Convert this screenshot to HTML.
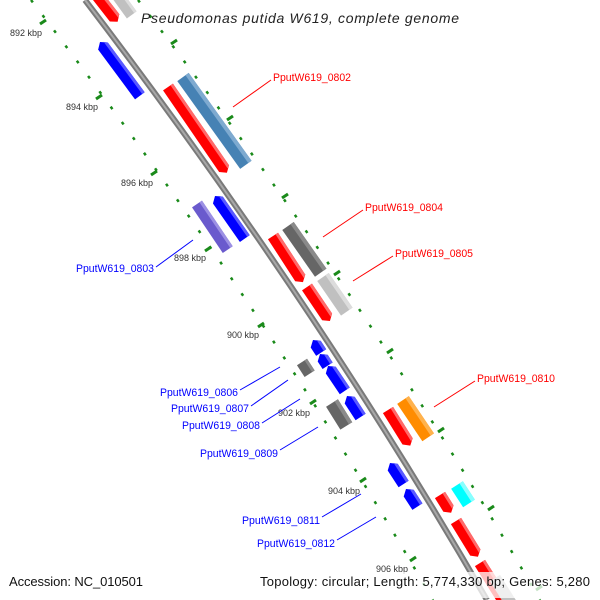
<!DOCTYPE html>
<html><head><meta charset="utf-8"><style>
html,body{margin:0;padding:0;background:#fff;}
svg{display:block;font-family:"Liberation Sans","DejaVu Sans",sans-serif;}
</style></head><body>
<svg width="600" height="600" viewBox="0 0 600 600" xmlns="http://www.w3.org/2000/svg">
<!-- tick rings -->
<g fill="none" stroke="#1a8a1a">
<path d="M31,0 Q260,300 433,600" stroke-width="2.5" stroke-dasharray="3 16"/>
<path d="M138,0 Q367,300 540,600" stroke-width="2.5" stroke-dasharray="3 16"/>
</g>
<g stroke="#1a8a1a" stroke-width="3" stroke-linecap="butt">
<line x1="40" y1="24" x2="46" y2="20"/><line x1="96" y1="99" x2="102" y2="95"/>
<line x1="151" y1="175" x2="157" y2="171"/><line x1="205" y1="251" x2="211" y2="247"/>
<line x1="258" y1="327" x2="264" y2="323"/><line x1="310" y1="404" x2="316" y2="400"/>
<line x1="360" y1="482" x2="366" y2="478"/><line x1="410" y1="561" x2="416" y2="557"/>
<line x1="171" y1="44" x2="177" y2="40"/><line x1="227" y1="120" x2="233" y2="116"/>
<line x1="282" y1="198" x2="288" y2="194"/><line x1="334" y1="275" x2="340" y2="271"/>
<line x1="387" y1="353" x2="393" y2="349"/><line x1="438" y1="432" x2="444" y2="428"/>
<line x1="488" y1="510" x2="494" y2="506"/><line x1="536" y1="590" x2="542" y2="586"/>
</g>
<!-- backbone -->
<path d="M85,0 Q314,300 487,600" fill="none" stroke="#7a7a7a" stroke-width="6"/>
<path d="M85,0 Q314,300 487,600" fill="none" stroke="#a8a8a8" stroke-width="2"/>

<!-- forward genes -->
<g>
<g transform="translate(85,-20) rotate(52)"><polygon points="0,-6 48,-6 53,0 48,6 0,6" fill="#f00"/><polygon points="0,-6 48,-6 50,-3 0,-3" fill="#ff6a6a"/></g>
<g transform="translate(110,-15) rotate(54)"><polygon points="0,-6 37,-6 37,6 0,6" fill="#c0c0c0"/><polygon points="0,-6 37,-6 37,-3 0,-3" fill="#dcdcdc"/></g>
<g transform="translate(168,87) rotate(55.5)"><polygon points="0,-6 99,-6 104,0 99,6 0,6" fill="#f00"/><polygon points="0,-6 99,-6 101,-3 0,-3" fill="#ff6a6a"/></g>
<g transform="translate(183,77) rotate(54.4)"><polygon points="0,-7 108,-7 108,7 0,7" fill="#4682b4"/><polygon points="0,-7 108,-7 108,-3 0,-3" fill="#7eaad0"/></g>
<g transform="translate(273,236) rotate(57)"><polygon points="0,-6 50,-6 55,0 50,6 0,6" fill="#f00"/><polygon points="0,-6 50,-6 52,-3 0,-3" fill="#ff6a6a"/></g>
<g transform="translate(288,226) rotate(55)"><polygon points="0,-7 57,-7 57,7 0,7" fill="#666"/><polygon points="0,-7 57,-7 57,-3 0,-3" fill="#8a8a8a"/></g>
<g transform="translate(307,287) rotate(56)"><polygon points="0,-6 36,-6 41,0 36,6 0,6" fill="#f00"/><polygon points="0,-6 36,-6 38,-3 0,-3" fill="#ff6a6a"/></g>
<g transform="translate(323,277) rotate(55.5)"><polygon points="0,-7 42,-7 42,7 0,7" fill="#c0c0c0"/><polygon points="0,-7 42,-7 42,-3 0,-3" fill="#dcdcdc"/></g>
<g transform="translate(302,362) rotate(57)"><polygon points="0,-6 14,-6 14,6 0,6" fill="#666"/><polygon points="0,-6 14,-6 14,-3 0,-3" fill="#8a8a8a"/></g>
<g transform="translate(332,403) rotate(58)"><polygon points="0,-7 27,-7 27,7 0,7" fill="#666"/><polygon points="0,-7 27,-7 27,-3 0,-3" fill="#8a8a8a"/></g>
<g transform="translate(388,410) rotate(58)"><polygon points="0,-6 37,-6 42,0 37,6 0,6" fill="#f00"/><polygon points="0,-6 37,-6 39,-3 0,-3" fill="#ff6a6a"/></g>
<g transform="translate(403,400) rotate(56)"><polygon points="0,-7 45,-7 45,7 0,7" fill="#ff8c00"/><polygon points="0,-7 45,-7 45,-3 0,-3" fill="#ffb24d"/></g>
<g transform="translate(440,495) rotate(58)"><polygon points="0,-6 16,-6 21,0 16,6 0,6" fill="#f00"/><polygon points="0,-6 16,-6 18,-3 0,-3" fill="#ff6a6a"/></g>
<g transform="translate(457,485) rotate(57)"><polygon points="0,-7 22,-7 22,7 0,7" fill="#0ff"/><polygon points="0,-7 22,-7 22,-3 0,-3" fill="#8ff"/></g>
<g transform="translate(456,521) rotate(58.5)"><polygon points="0,-6 37,-6 42,0 37,6 0,6" fill="#f00"/><polygon points="0,-6 37,-6 39,-3 0,-3" fill="#ff6a6a"/></g>
<g transform="translate(480,563) rotate(58)"><polygon points="0,-6 40,-6 45,0 40,6 0,6" fill="#f00"/><polygon points="0,-6 40,-6 42,-3 0,-3" fill="#ff6a6a"/></g>
<g transform="translate(495,578) rotate(58)"><polygon points="0,-6 30,-6 30,6 0,6" fill="#c0c0c0"/></g>
</g>
<!-- reverse genes -->
<g>
<g transform="translate(100,42) rotate(53.5)"><polygon points="0,0 5,-6 67,-6 67,6 5,6" fill="#00f"/><polygon points="2,-3 5,-6 67,-6 67,-3" fill="#5a5aff"/></g>
<g transform="translate(215,196) rotate(55)"><polygon points="0,0 5,-6 52,-6 52,6 5,6" fill="#00f"/><polygon points="2,-3 5,-6 52,-6 52,-3" fill="#5a5aff"/></g>
<g transform="translate(197,204) rotate(56)"><polygon points="0,-6 55,-6 55,6 0,6" fill="#6a5acd"/><polygon points="0,-6 55,-6 55,-3 0,-3" fill="#9c90e4"/></g>
<g transform="translate(313,340) rotate(57)"><polygon points="0,0 5,-6 15,-6 15,6 5,6" fill="#00f"/><polygon points="2,-3 5,-6 15,-6 15,-3" fill="#5a5aff"/></g>
<g transform="translate(320,354) rotate(57)"><polygon points="0,0 5,-6 14,-6 14,6 5,6" fill="#00f"/><polygon points="2,-3 5,-6 14,-6 14,-3" fill="#5a5aff"/></g>
<g transform="translate(328,366) rotate(56)"><polygon points="0,0 5,-6 30,-6 30,6 5,6" fill="#00f"/><polygon points="2,-3 5,-6 30,-6 30,-3" fill="#5a5aff"/></g>
<g transform="translate(347,396) rotate(57)"><polygon points="0,0 5,-6 25,-6 25,6 5,6" fill="#00f"/><polygon points="2,-3 5,-6 25,-6 25,-3" fill="#5a5aff"/></g>
<g transform="translate(390,463) rotate(57)"><polygon points="0,0 5,-6 25,-6 25,6 5,6" fill="#00f"/><polygon points="2,-3 5,-6 25,-6 25,-3" fill="#5a5aff"/></g>
<g transform="translate(406,489) rotate(57)"><polygon points="0,0 5,-6 21,-6 21,6 5,6" fill="#00f"/><polygon points="2,-3 5,-6 21,-6 21,-3" fill="#5a5aff"/></g>
</g>

<!-- kbp labels -->
<g font-size="9" fill="#333">
<text x="10" y="36">892 kbp</text><text x="66" y="110">894 kbp</text>
<text x="121" y="186">896 kbp</text><text x="174" y="261">898 kbp</text>
<text x="227" y="338">900 kbp</text><text x="278" y="416">902 kbp</text>
<text x="328" y="494">904 kbp</text><text x="376" y="572">906 kbp</text>
</g>
<!-- label lines -->
<g stroke-width="1">
<line x1="233" y1="107" x2="271" y2="80" stroke="#f00"/>
<line x1="323" y1="237" x2="363" y2="210" stroke="#f00"/>
<line x1="353" y1="281" x2="393" y2="256" stroke="#f00"/>
<line x1="434" y1="407" x2="475" y2="381" stroke="#f00"/>
<line x1="156" y1="267" x2="193" y2="240" stroke="#00f"/>
<line x1="240" y1="390" x2="280" y2="367" stroke="#00f"/>
<line x1="251" y1="406" x2="288" y2="380" stroke="#00f"/>
<line x1="262" y1="423" x2="300" y2="399" stroke="#00f"/>
<line x1="280" y1="450" x2="318" y2="427" stroke="#00f"/>
<line x1="322" y1="517" x2="361" y2="494" stroke="#00f"/>
<line x1="337" y1="540" x2="376" y2="517" stroke="#00f"/>
</g>
<g font-size="11" fill="#f00">
<text x="273" y="81" textLength="78" lengthAdjust="spacingAndGlyphs">PputW619_0802</text>
<text x="365" y="211" textLength="78" lengthAdjust="spacingAndGlyphs">PputW619_0804</text>
<text x="395" y="257" textLength="78" lengthAdjust="spacingAndGlyphs">PputW619_0805</text>
<text x="477" y="382" textLength="78" lengthAdjust="spacingAndGlyphs">PputW619_0810</text>
</g>
<g font-size="11" fill="#00f">
<text x="76" y="272" textLength="78" lengthAdjust="spacingAndGlyphs">PputW619_0803</text>
<text x="160" y="396" textLength="78" lengthAdjust="spacingAndGlyphs">PputW619_0806</text>
<text x="171" y="412" textLength="78" lengthAdjust="spacingAndGlyphs">PputW619_0807</text>
<text x="182" y="429" textLength="78" lengthAdjust="spacingAndGlyphs">PputW619_0808</text>
<text x="200" y="457" textLength="78" lengthAdjust="spacingAndGlyphs">PputW619_0809</text>
<text x="242" y="524" textLength="78" lengthAdjust="spacingAndGlyphs">PputW619_0811</text>
<text x="257" y="547" textLength="78" lengthAdjust="spacingAndGlyphs">PputW619_0812</text>
</g>
<text x="141" y="23" font-size="14" font-style="italic" fill="#222" textLength="318" lengthAdjust="spacing">Pseudomonas putida W619, complete genome</text>
<rect x="0" y="572" width="600" height="26" fill="#fff" fill-opacity="0.75"/>
<text x="9" y="586" font-size="13" fill="#111" textLength="134" lengthAdjust="spacing">Accession: NC_010501</text>
<text x="260" y="586" font-size="13" fill="#111" textLength="330" lengthAdjust="spacing">Topology: circular; Length: 5,774,330 bp; Genes: 5,280</text>
</svg>
</body></html>
